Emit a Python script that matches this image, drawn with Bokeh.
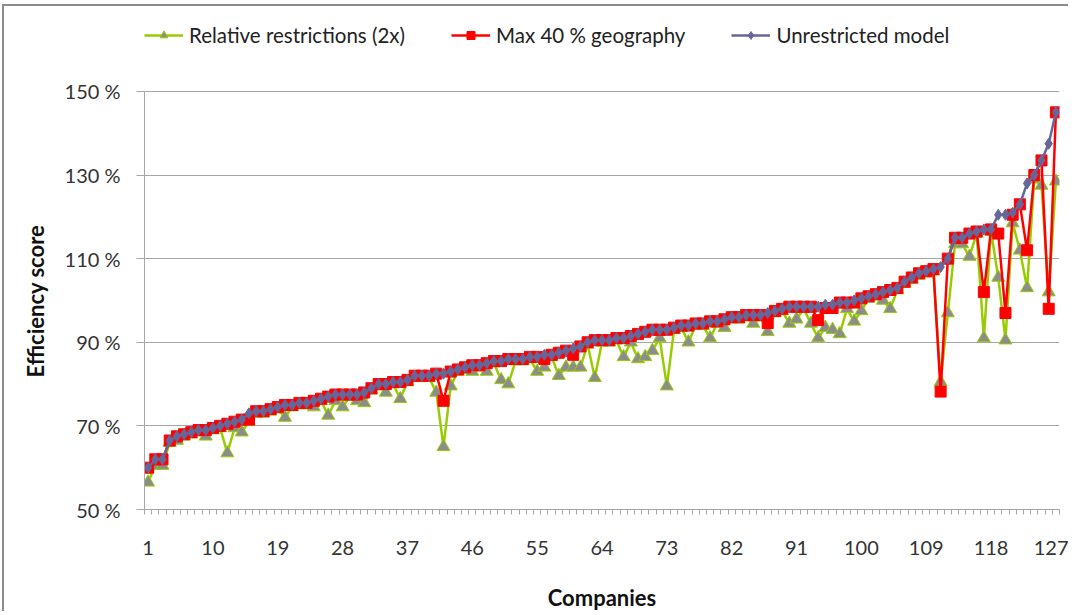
from bokeh.plotting import figure
from bokeh.models import Range1d, FixedTicker, PrintfTickFormatter, Legend, LegendItem, ColumnDataSource, Title
from bokeh.embed import file_html
from bokeh.resources import INLINE

companies = list(range(1, 128))
x_tick_labels = [1, 10, 19, 28, 37, 46, 55, 64, 73, 82, 91, 100, 109, 118, 127]
y_ticks = [50, 70, 90, 110, 130, 150]

unrestricted = [
    60, 62, 62, 66.5, 67.5, 68, 68.5, 69, 69, 69.5,
    70, 70.5, 71, 71.5, 73, 73.5, 73.5, 74, 74.5, 75,
    75, 75.5, 75.5, 76, 76.5, 77, 77.5, 77.5, 77.5, 77.5,
    78, 79, 80, 80, 80.5, 80.5, 81, 82, 82, 82,
    82.5, 82.5, 83, 83.5, 84, 84.5, 84.5, 85, 85.5, 85.5,
    86, 86, 86, 86.5, 86.5, 87, 87, 87.5, 88, 88.5,
    89, 90, 90.5, 90.5, 90.5, 91, 91, 91.5, 92, 92.5,
    93, 93, 93, 93.5, 94, 94, 94.5, 94.5, 95, 95,
    95.5, 96, 96, 96.5, 96.5, 96.5, 97, 97.5, 98, 98.5,
    98.5, 98.5, 98.5, 98.5, 99, 99, 99.5, 99.5, 100, 100.5,
    101, 101.5, 102, 102.5, 103, 104.5, 105.5, 106.5, 107, 107.5,
    108, 110, 115, 115, 116, 116.5, 117, 117, 120.5, 120.5,
    121, 123, 128, 130, 133.5, 137.5, 145,
]

max40_geo = [
    60, 62, 62, 66.5, 67.5, 68, 68.5, 69, 69, 69.5,
    70, 70.5, 71, 71.5, 71.5, 73.5, 73.5, 74, 74.5, 75,
    75, 75.5, 75.5, 76, 76.5, 77, 77.5, 77.5, 77.5, 77.5,
    78, 79, 80, 80, 80.5, 80.5, 81, 82, 82, 82,
    82.5, 76, 83, 83.5, 84, 84.5, 84.5, 85, 85.5, 85.5,
    86, 86, 86, 86.5, 86.5, 86, 87, 87.5, 88, 87,
    89, 90, 90.5, 90.5, 90.5, 91, 91, 91.5, 92, 92.5,
    93, 93, 93, 93.5, 94, 94, 94.5, 94.5, 95, 95,
    95.5, 96, 96, 96.5, 96.5, 96.5, 94.6, 97.5, 98, 98.5,
    98.5, 98.5, 98.5, 95.3, 98.2, 98.2, 99.5, 99.5, 99.5, 100.5,
    101, 101.5, 102, 102.5, 103, 104.5, 105.5, 106.5, 107, 107.5,
    78.2, 110, 115, 115, 116, 116.5, 102, 117, 116, 97,
    120.5, 123, 112, 130, 133.5, 98, 145,
]

relative_2x = [
    56.5, 60.5, 60.5, 66, 66.5, 67.5, 68, 68.5, 67.5, 69,
    69.5, 63.5, 69.5, 68.5, 71, 73, 73, 73.5, 74, 72,
    74.5, 75, 75, 74.5, 76, 72.5, 76, 74.5, 77, 76,
    75.5, 78.5, 79.5, 78, 80, 76.5, 80.5, 81.5, 81.5, 81.5,
    78, 65, 79.5, 83, 83.5, 83, 84, 83, 85, 81,
    80, 85.5, 85.5, 86, 83, 84, 86.5, 82, 84, 84,
    84, 89.5, 81.5, 90, 90, 90.5, 86.5, 90, 86, 86.5,
    88, 91, 79.5, 93, 93.5, 90, 94, 94, 91, 94.5,
    93.5, 95.5, 95.5, 96, 94.5, 96, 92.5, 97, 97.5, 94.5,
    95.5, 98, 94.5, 91, 93.5, 93, 92, 98, 95, 97.5,
    100.5, 101, 100, 98, 102.5, 104, 105, 106, 106.5, 107,
    80.5, 97, 113.5, 113.5, 110.5, 116, 91, 116.5, 105.5, 90.5,
    118.5, 112, 103, 129, 127.5, 102, 128.5,
]

FONT = "Lato"
GRID = "#a6a6a6"

src = ColumnDataSource(dict(x=companies, u=unrestricted, m=max40_geo, r=relative_2x))

# frame extends above the 150 % line to hold the legend (top ~168.4 %)
p = figure(width=1066, height=607, x_range=Range1d(0.5, 127.5), y_range=Range1d(50, 168.4),
           output_backend="svg", toolbar_location=None,
           min_border_left=140, min_border_right=11, min_border_top=8, min_border_bottom=103)
p.styles = {"border-top": "2px solid #8c8c8c", "border-left": "2px solid #8c8c8c",
            "margin-left": "2px", "margin-top": "4px"}
p.outline_line_color = None
p.background_fill_color = "white"

# series
g_line = p.line("x", "r", source=src, line_color="#99cc00", line_width=2.5)
g_mark = p.scatter("x", "r", source=src, marker="triangle", size=13,
                   fill_color="#8c8c8c", line_color="#99cc00", line_width=1)
r_line = p.line("x", "m", source=src, line_color="#ff0000", line_width=2.5)
r_mark = p.scatter("x", "m", source=src, marker="square", size=11,
                   fill_color="#ff0000", line_color="#ff0000", line_width=1)
b_line = p.line("x", "u", source=src, line_color="#666699", line_width=2.5)
b_mark = p.scatter("x", "u", source=src, marker="diamond", size=11,
                   fill_color="#666699", line_color="#666699", line_width=1)

# x axis
p.xaxis.ticker = FixedTicker(ticks=x_tick_labels, minor_ticks=[i + 0.5 for i in range(0, 128)])
p.xaxis.major_tick_out = 0
p.xaxis.major_tick_in = 0
p.xaxis.minor_tick_out = 5
p.xaxis.minor_tick_in = 0
p.xaxis.minor_tick_line_color = GRID
p.xaxis.axis_line_color = GRID
p.xaxis.axis_label = "Companies"
p.xaxis.major_label_standoff = 26
p.xaxis.axis_label_standoff = 26
p.xgrid.visible = False

# y axis
p.yaxis.ticker = FixedTicker(ticks=y_ticks)
p.yaxis.bounds = (50, 150)
p.yaxis.formatter = PrintfTickFormatter(format="%d %%")
p.yaxis.major_tick_out = 8
p.yaxis.major_tick_in = 0
p.yaxis.minor_tick_out = 0
p.yaxis.major_tick_line_color = GRID
p.yaxis.axis_line_color = GRID
p.yaxis.major_label_standoff = 16
p.ygrid.ticker = FixedTicker(ticks=y_ticks)
p.ygrid.grid_line_color = GRID
p.ygrid.grid_line_width = 1

for ax in (p.xaxis, p.yaxis):
    ax.major_label_text_font = FONT
    ax.major_label_text_font_size = "20px"
    ax.major_label_text_color = "#333333"
    ax.axis_label_text_font = FONT
    ax.axis_label_text_font_size = "22px"
    ax.axis_label_text_font_style = "bold"
    ax.axis_label_text_color = "#111111"

# y axis title, centred on the 50-150 % band rather than on the taller frame
ytitle = Title(text="Efficiency score", align="left", vertical_align="bottom",
               offset=132, standoff=26,
               text_font=FONT, text_font_size="22px", text_font_style="bold",
               text_color="#111111")
p.add_layout(ytitle, "left")

legend = Legend(items=[
    LegendItem(label="Relative restrictions (2x)", renderers=[g_line, g_mark]),
    LegendItem(label="Max 40 % geography", renderers=[r_line, r_mark]),
    LegendItem(label="Unrestricted model", renderers=[b_line, b_mark]),
], orientation="horizontal", location=(0, 462))
legend.label_text_font = FONT
legend.label_text_font_size = "20.5px"
legend.label_text_color = "#222222"
legend.glyph_width = 39
legend.glyph_height = 20
legend.label_standoff = 6
legend.spacing = 46
legend.padding = 0
legend.margin = 0
legend.border_line_color = None
legend.background_fill_alpha = 0
p.add_layout(legend, "center")

open("out.html", "w").write(file_html(p, INLINE))
